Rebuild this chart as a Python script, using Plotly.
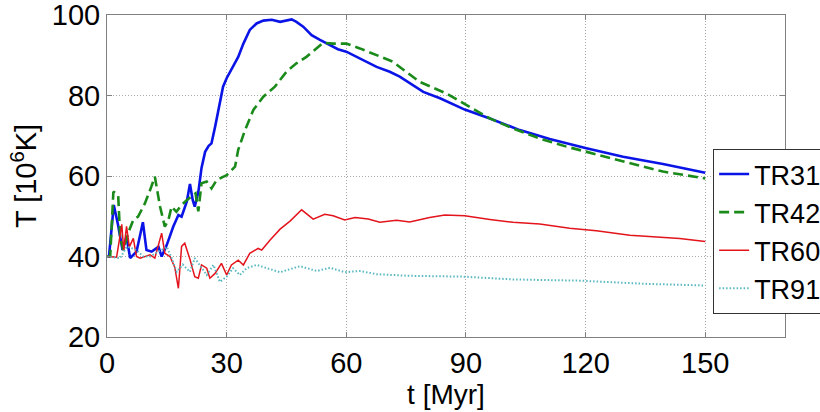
import plotly.graph_objects as go

# ---- data ----
t_tr31 = [0, 0.5, 1.7, 2.7, 3.9, 4.9, 5.8, 7.4, 9.0, 9.9, 11.2, 12.9, 13.7, 15.0, 16.6, 17.9, 18.7,
          20.0, 20.8, 21.5, 22.0, 22.9, 23.7, 24.6, 25.5, 26.2, 27.1, 27.9, 29.1, 30.0, 31.6, 32.9,
          34.2, 35.8, 37.5, 39.2, 41.3, 43.4, 46.3, 47.5, 49.2, 51.3, 53.4, 55.9, 57.9, 60.0, 63.4,
          67.6, 70.9, 73.4, 79.3, 83.5, 89.7, 96.0, 103.5, 111.0, 120.2, 129.4, 139.4, 150.0]
T_tr31 = [40, 40, 52.8, 48.2, 41.6, 44.9, 39.6, 41.2, 48.5, 41.6, 41.2, 42.4, 40.0, 42.9, 47.4, 50.3, 49.9,
          53.6, 58.0, 54.0, 52.4, 56.0, 62.0, 66.0, 67.5, 68.1, 72.2, 76.4, 82.2, 84.3, 87.1, 89.6,
          92.9, 96.3, 97.9, 98.6, 98.8, 98.3, 98.9, 98.3, 97.1, 95.0, 93.8, 92.5, 91.5, 90.9, 89.2,
          87.1, 85.9, 84.7, 80.9, 79.3, 76.5, 74.3, 71.4, 69.2, 66.9, 64.8, 63.0, 60.8]

t_tr42 = [0, 0.8, 1.6, 2.8, 3.3, 4.1, 5.3, 6.6, 7.8, 9.5, 10.8, 12.0, 13.3, 14.5, 15.4, 16.2, 17.4,
          18.7, 20.0, 21.2, 22.2, 22.9, 23.7, 25.0, 26.2, 27.5, 30.0, 32.1, 32.9, 34.6, 36.7, 39.2,
          42.1, 45.0, 47.5, 50.0, 52.5, 54.2, 56.7, 60.0, 63.4, 67.6, 71.7, 73.4, 78.4, 85.1, 90.1,
          96.0, 101.8, 108.5, 115.2, 121.8, 130.2, 139.4, 150.0]
T_tr42 = [40, 40, 56.1, 55.3, 44.9, 41.6, 45.8, 49.1, 49.9, 53.2, 56.5, 59.8, 52.4, 47.4, 49.1, 52.4, 51.1,
          52.8, 54.0, 54.9, 55.7, 51.2, 58.2, 58.6, 56.9, 59.0, 60.2, 62.3, 66.5, 71.4, 76.4, 79.7,
          82.2, 85.9, 88.0, 89.6, 91.7, 93.1, 92.9, 92.9, 91.7, 90.1, 88.4, 87.1, 83.4, 80.5, 77.6,
          74.3, 71.8, 69.3, 67.3, 65.6, 63.6, 61.1, 59.4]

t_tr60 = [0, 2.4, 3.3, 3.7, 4.2, 4.9, 5.6, 6.6, 7.4, 8.3, 10.8, 12.0, 13.7, 14.5, 15.8, 17.0, 17.9,
          18.7, 19.5, 20.8, 22.0, 22.9, 23.7, 25.0, 25.8, 27.1, 28.7, 30.0, 31.2, 32.9, 34.2, 35.8,
          37.9, 38.8, 40.9, 43.4, 45.9, 48.8, 51.7, 54.6, 56.7, 59.6, 62.2, 65.5, 68.4, 72.6, 75.9,
          80.9, 84.7, 89.7, 96.0, 101.8, 108.5, 116.0, 122.7, 131.1, 136.9, 143.6, 150.0]
T_tr60 = [40, 39.8, 45.3, 48.0, 41.6, 47.5, 42.4, 44.5, 40.0, 39.6, 40.4, 39.6, 45.8, 40.8, 40.0, 37.3, 32.1,
          42.5, 43.3, 39.3, 35.0, 34.6, 37.9, 37.1, 34.6, 35.8, 38.3, 35.4, 37.9, 39.1, 37.9, 40.8,
          42.0, 41.6, 44.1, 46.8, 48.8, 51.6, 49.3, 50.5, 50.1, 49.1, 49.7, 49.3, 48.5, 49.0, 48.6,
          49.7, 50.3, 50.1, 49.2, 48.5, 48.1, 47.0, 46.4, 45.3, 44.9, 44.5, 43.7]

t_tr91 = [0, 3.3, 5.0, 7.4, 9.1, 10.8, 12.5, 15.0, 16.2, 17.5, 19.0, 20.8, 22.0, 23.3, 25.0, 26.7, 28.3,
          30.0, 31.6, 33.3, 35.0, 37.5, 40.0, 43.4, 48.4, 52.6, 55.9, 59.6, 63.4, 67.6, 71.7, 75.9,
          89.3, 101.8, 118.5, 135.2, 150.0]
T_tr91 = [40, 39.6, 42.5, 41.6, 40.0, 40.0, 41.0, 42.4, 39.6, 36.2, 38.0, 36.2, 39.6, 37.9, 35.4, 37.9, 33.7,
          35.0, 37.1, 35.4, 37.1, 37.9, 37.1, 36.1, 37.6, 36.4, 37.2, 36.1, 36.4, 35.6, 35.4, 35.2,
          35.0, 34.3, 34.0, 33.2, 32.8]

series_names = ["TR31", "TR42", "TR60", "TR91"]
x_ticks = [0, 30, 60, 90, 120, 150]
y_ticks = [20, 40, 60, 80, 100]

FONT = "Liberation Sans, Arial, sans-serif"

fig = go.Figure()
fig.add_trace(go.Scatter(x=t_tr31, y=T_tr31, mode="lines", name=series_names[0],
                         line=dict(color="#0a14e6", width=2.6)))
fig.add_trace(go.Scatter(x=t_tr42, y=T_tr42, mode="lines", name=series_names[1],
                         line=dict(color="#1a8a1a", width=2.6, dash="10px,5px")))
fig.add_trace(go.Scatter(x=t_tr60, y=T_tr60, mode="lines", name=series_names[2],
                         line=dict(color="#e3141c", width=1.5)))
fig.add_trace(go.Scatter(x=t_tr91, y=T_tr91, mode="lines", name=series_names[3],
                         line=dict(color="#58b8c0", width=2, dash="1.5px,2px")))

axis_common = dict(
    showline=True, linecolor="#808080", linewidth=1, mirror="ticks",
    ticks="inside", ticklen=5, tickcolor="#808080",
    showgrid=True, gridcolor="#a8a8a8", griddash="1px,2px", gridwidth=1,
    zeroline=False, tickfont=dict(family=FONT, size=29, color="black"),
    ticklabeloverflow="allow",
)

fig.update_layout(
    width=820, height=412,
    margin=dict(l=107, r=35, t=15, b=75, autoexpand=False),
    paper_bgcolor="white", plot_bgcolor="white",
    font=dict(family=FONT, color="black"),
    xaxis=dict(range=[0, 170], tickvals=x_ticks,
               title=dict(text="t [Myr]", font=dict(family=FONT, size=28), standoff=0),
               **axis_common),
    yaxis=dict(range=[19.999, 100.001], tickvals=y_ticks,
               title=dict(text="T [10<sup>6</sup>K]", font=dict(family=FONT, size=29), standoff=6),
               **axis_common),
    legend=dict(x=0.894, y=0.584, xanchor="left", yanchor="top",
                bgcolor="white", bordercolor="#333333", borderwidth=1,
                font=dict(family=FONT, size=27, color="black"), tracegroupgap=0,
                itemwidth=30),
    showlegend=True,
)

fig.write_html("out.html")
